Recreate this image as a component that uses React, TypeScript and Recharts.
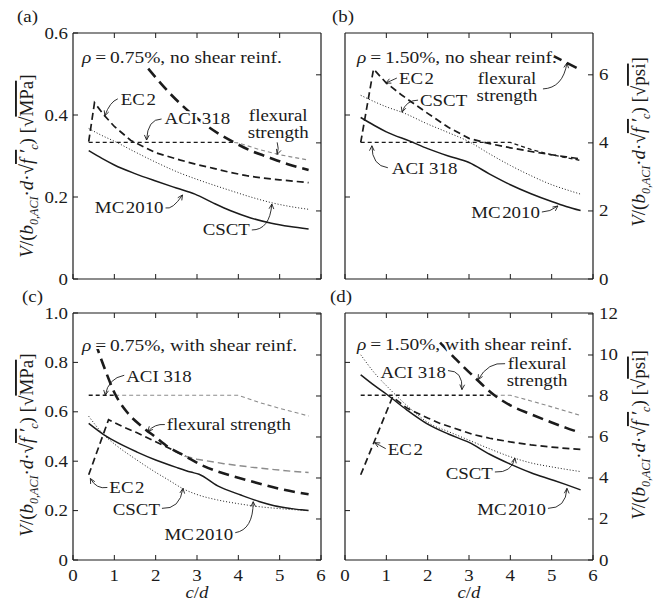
import React from 'react';
import { LineChart, Line, XAxis, YAxis, ReferenceDot } from 'recharts';

type Pt = [number, number];
type Kind = 'mc' | 'csct' | 'ec2' | 'aci' | 'flex';

const W = 654;
const H = 605;
const FONT = '"Liberation Serif", "Times New Roman", Times, serif';
const FS = 16;
const SX = 1.18; // lettering is set a little wide
const INK = '#1b1b1b';
const GRAY = '#8c8c8c';
const PSI = 0.083; // 1 sqrt(psi) in sqrt(MPa)

const cdTicks = [0, 1, 2, 3, 4, 5, 6];
const cdInner = [1, 2, 3, 4, 5];
const mpaTicksTop = [0, 0.2, 0.4, 0.6];
const mpaTicksBottom = [0, 0.2, 0.4, 0.6, 0.8, 1.0];
const psiTicksTop = [0, 2, 4, 6];
const psiTicksBottom = [0, 2, 4, 6, 8, 10, 12];

// (a) rho = 0.75 %, no shear reinforcement
const aMc2010: Pt[] = [[0.38, 0.313], [0.7, 0.294], [1.0, 0.278], [1.5, 0.257], [2.0, 0.239], [2.5, 0.222], [2.95, 0.207], [3.4, 0.185], [3.8, 0.167], [4.3, 0.149], [4.8, 0.136], [5.25, 0.128], [5.7, 0.122]];
const aCsct: Pt[] = [[0.38, 0.367], [0.7, 0.35], [1.0, 0.336], [1.5, 0.31], [2.0, 0.285], [2.6, 0.258], [3.0, 0.243], [3.8, 0.216], [4.3, 0.2], [4.85, 0.185], [5.3, 0.176], [5.7, 0.17]];
const aEc2: Pt[] = [[0.38, 0.335], [0.52, 0.43], [0.75, 0.4], [1.0, 0.372], [1.4, 0.338], [2.0, 0.308], [2.6, 0.29], [3.0, 0.279], [3.4, 0.27], [3.8, 0.26], [4.2, 0.252], [4.6, 0.246], [5.0, 0.242], [5.4, 0.238], [5.7, 0.235]];
const aAci: Pt[] = [[0.38, 0.333], [3.9, 0.333]];
const aAciOver: Pt[] = [[3.9, 0.333], [4.0, 0.332], [4.5, 0.316], [5.0, 0.303], [5.7, 0.29]];
const aFlex: Pt[] = [[1.82, 0.513], [2.4, 0.447], [3.0, 0.392], [3.5, 0.356], [3.9, 0.333], [4.3, 0.313], [4.7, 0.298], [5.2, 0.28], [5.7, 0.266]];

// (b) rho = 1.50 %, no shear reinforcement
const bMc2010: Pt[] = [[0.38, 0.394], [0.7, 0.375], [1.0, 0.359], [1.6, 0.335], [2.0, 0.318], [2.5, 0.3], [3.0, 0.284], [3.5, 0.256], [4.0, 0.23], [4.5, 0.208], [5.0, 0.189], [5.35, 0.177], [5.7, 0.167]];
const bCsct: Pt[] = [[0.38, 0.448], [1.0, 0.42], [1.42, 0.405], [2.0, 0.378], [2.5, 0.357], [3.0, 0.335], [3.5, 0.305], [4.0, 0.277], [4.5, 0.252], [5.0, 0.23], [5.35, 0.218], [5.7, 0.207]];
const bEc2: Pt[] = [[0.38, 0.333], [0.69, 0.512], [1.0, 0.478], [1.38, 0.448], [2.0, 0.404], [2.5, 0.37], [3.0, 0.343], [3.5, 0.33], [4.0, 0.32], [4.5, 0.311], [5.0, 0.303], [5.35, 0.298], [5.7, 0.293]];
const bAci: Pt[] = [[0.38, 0.333], [4.0, 0.333], [4.5, 0.316], [5.0, 0.303], [5.7, 0.289]];
const bFlex: Pt[] = [[5.0, 0.546], [5.35, 0.528], [5.7, 0.51]];

// (c) rho = 0.75 %, with shear reinforcement
const cMc2010: Pt[] = [[0.38, 0.553], [0.74, 0.508], [1.0, 0.482], [1.55, 0.437], [2.0, 0.405], [2.5, 0.375], [2.85, 0.356], [3.05, 0.347], [3.5, 0.3], [4.06, 0.263], [4.5, 0.237], [4.87, 0.22], [5.3, 0.208], [5.7, 0.2]];
const cCsct: Pt[] = [[0.38, 0.582], [0.74, 0.508], [1.0, 0.47], [1.5, 0.41], [2.0, 0.355], [2.3, 0.325], [2.68, 0.287], [3.0, 0.265], [3.5, 0.243], [4.0, 0.228], [4.5, 0.216], [5.0, 0.208], [5.7, 0.2]];
const cEc2: Pt[] = [[0.38, 0.345], [0.86, 0.568], [1.2, 0.54], [1.55, 0.515], [2.16, 0.466], [2.72, 0.42]];
const cEc2Over: Pt[] = [[2.72, 0.42], [3.0, 0.408], [3.65, 0.39], [4.3, 0.376], [4.87, 0.366], [5.3, 0.359], [5.7, 0.354]];
const cAci: Pt[] = [[0.38, 0.667], [1.02, 0.667]];
const cAciOver: Pt[] = [[1.02, 0.667], [4.0, 0.667], [4.5, 0.638], [5.0, 0.614], [5.7, 0.583]];
const cFlex: Pt[] = [[0.54, 0.88], [0.8, 0.76], [1.0, 0.678], [1.3, 0.6], [1.67, 0.54], [2.0, 0.497], [2.3, 0.458], [2.72, 0.42], [3.1, 0.385], [3.5, 0.358], [4.0, 0.333], [4.5, 0.31], [5.0, 0.288], [5.7, 0.266]];

// (d) rho = 1.50 %, with shear reinforcement
const dMc2010: Pt[] = [[0.38, 0.75], [0.7, 0.708], [1.0, 0.672], [1.5, 0.607], [2.0, 0.55], [2.5, 0.51], [3.0, 0.476], [3.5, 0.428], [4.0, 0.388], [4.5, 0.353], [5.0, 0.325], [5.35, 0.305], [5.7, 0.284]];
const dCsct: Pt[] = [[0.38, 0.831], [0.7, 0.76], [1.1, 0.689], [1.5, 0.625], [2.07, 0.55], [2.5, 0.52], [3.0, 0.485], [3.5, 0.45], [4.0, 0.418], [4.5, 0.393], [5.0, 0.377], [5.35, 0.367], [5.7, 0.358]];
const dEc2: Pt[] = [[0.38, 0.345], [1.15, 0.66], [1.5, 0.615], [2.0, 0.575], [2.3, 0.553], [2.8, 0.525], [3.1, 0.508], [3.5, 0.493], [4.0, 0.478], [4.5, 0.466], [5.0, 0.457], [5.35, 0.452], [5.7, 0.448]];
const dAci: Pt[] = [[0.38, 0.667], [3.6, 0.667]];
const dAciOver: Pt[] = [[3.6, 0.667], [4.0, 0.667], [4.5, 0.644], [5.0, 0.62], [5.7, 0.585]];
const dFlex: Pt[] = [[2.3, 0.88], [2.7, 0.81], [3.1, 0.745], [3.6, 0.669], [4.0, 0.626], [4.5, 0.59], [5.0, 0.557], [5.35, 0.535], [5.7, 0.515]];

const LOOK: Record<Kind, { w: number; dash?: string; curve: 'monotone' | 'linear' }> = {
  mc: { w: 1.5, curve: 'monotone' },
  csct: { w: 1, dash: '1 2', curve: 'monotone' },
  ec2: { w: 1.7, dash: '7 4', curve: 'linear' },
  aci: { w: 1.3, dash: '4 3', curve: 'linear' },
  flex: { w: 2.6, dash: '11 6', curve: 'monotone' },
};

interface Series { kind: Kind; pts: Pt[]; gray?: boolean }
interface Note { at: Pt; tail: Pt; ctrl?: Pt; text: string[]; tx: number; ty: number; anchor?: 'start' | 'middle' | 'end' }
interface PanelCfg {
  tag: string;
  frame: { l: number; r: number; t: number; b: number };
  yMax: number;
  mpaTicks: number[];
  psiTicks: number[];
  leftLabels: boolean;
  bottomLabels: boolean;
  series: Series[];
  notes: Note[];
}

const frameTop = { t: 33, b: 279 };
const frameBottom = { t: 313, b: 560 };
const HS = '\u200A';
const LINE_GAP = 17;

const panels: PanelCfg[] = [
  {
    tag: 'a', frame: { l: 73, r: 321, ...frameTop }, yMax: 0.6,
    mpaTicks: mpaTicksTop, psiTicks: psiTicksTop, leftLabels: true, bottomLabels: false,
    series: [
      { kind: 'aci', pts: aAciOver, gray: true },
      { kind: 'csct', pts: aCsct }, { kind: 'mc', pts: aMc2010 }, { kind: 'ec2', pts: aEc2 },
      { kind: 'aci', pts: aAci }, { kind: 'flex', pts: aFlex },
    ],
    notes: [
      { at: [0.77, 0.398], tail: [13, -17], ctrl: [5, -14], text: [`EC${HS}2`], tx: 16, ty: -11 },
      { at: [1.78, 0.339], tail: [15, -21], ctrl: [1, -21], text: ['ACI 318'], tx: 18, ty: -16 },
      { at: [4.94, 0.304], tail: [0, -12], ctrl: [2, -6], text: ['flexural', 'strength'], tx: 1, ty: -33, anchor: 'middle' },
      { at: [2.65, 0.205], tail: [-17, 13], ctrl: [-10, 15], text: [`MC${HS}2010`], tx: -19, ty: 18, anchor: 'end' },
      { at: [4.81, 0.183], tail: [-20, 26], ctrl: [-2, 26], text: ['CSCT'], tx: -22, ty: 31, anchor: 'end' },
    ],
  },
  {
    tag: 'b', frame: { l: 345, r: 593, ...frameTop }, yMax: 0.6,
    mpaTicks: [0.2, 0.4], psiTicks: psiTicksTop, leftLabels: false, bottomLabels: false,
    series: [
      { kind: 'csct', pts: bCsct }, { kind: 'mc', pts: bMc2010 }, { kind: 'ec2', pts: bEc2 },
      { kind: 'aci', pts: bAci }, { kind: 'flex', pts: bFlex },
    ],
    notes: [
      { at: [0.99, 0.478], tail: [11, -5], text: [`EC${HS}2`], tx: 13, ty: 1 },
      { at: [1.38, 0.407], tail: [16, -12], ctrl: [4, -12], text: ['CSCT'], tx: 18, ty: -6 },
      { at: [5.37, 0.527], tail: [-24, 26], ctrl: [-4, 25], text: ['flexural', 'strength'], tx: -60, ty: 21, anchor: 'middle' },
      { at: [0.65, 0.325], tail: [16, 22], ctrl: [0, 20], text: ['ACI 318'], tx: 20, ty: 28 },
      { at: [5.15, 0.178], tail: [-16, 6], ctrl: [-8, 6], text: [`MC${HS}2010`], tx: -18, ty: 12, anchor: 'end' },
    ],
  },
  {
    tag: 'c', frame: { l: 73, r: 321, ...frameBottom }, yMax: 1.0,
    mpaTicks: mpaTicksBottom, psiTicks: psiTicksBottom, leftLabels: true, bottomLabels: true,
    series: [
      { kind: 'aci', pts: cAciOver, gray: true }, { kind: 'ec2', pts: cEc2Over, gray: true },
      { kind: 'csct', pts: cCsct }, { kind: 'mc', pts: cMc2010 }, { kind: 'ec2', pts: cEc2 },
      { kind: 'aci', pts: cAci }, { kind: 'flex', pts: cFlex },
    ],
    notes: [
      { at: [0.78, 0.667], tail: [19, -20], ctrl: [3, -17], text: ['ACI 318'], tx: 21, ty: -13 },
      { at: [1.81, 0.52], tail: [17, -7], ctrl: [7, -8], text: ['flexural strength'], tx: 19, ty: -2 },
      { at: [0.42, 0.33], tail: [17, 9], ctrl: [6, 11], text: [`EC${HS}2`], tx: 19, ty: 15 },
      { at: [2.66, 0.29], tail: [-21, 20], ctrl: [-3, 21], text: ['CSCT'], tx: -23, ty: 27, anchor: 'end' },
      { at: [4.36, 0.236], tail: [-18, 31], ctrl: [0, 28], text: [`MC${HS}2010`], tx: -20, ty: 38, anchor: 'end' },
    ],
  },
  {
    tag: 'd', frame: { l: 345, r: 593, ...frameBottom }, yMax: 1.0,
    mpaTicks: [0.2, 0.4, 0.6, 0.8], psiTicks: psiTicksBottom, leftLabels: false, bottomLabels: true,
    series: [
      { kind: 'aci', pts: dAciOver, gray: true },
      { kind: 'csct', pts: dCsct }, { kind: 'mc', pts: dMc2010 }, { kind: 'ec2', pts: dEc2 },
      { kind: 'aci', pts: dAci }, { kind: 'flex', pts: dFlex },
    ],
    notes: [
      { at: [3.22, 0.73], tail: [27, -16], ctrl: [10, -18], text: ['flexural', 'strength'], tx: 59, ty: -11, anchor: 'middle' },
      { at: [2.83, 0.69], tail: [-14, -19], ctrl: [1, -19], text: ['ACI 318'], tx: -16, ty: -12, anchor: 'end' },
      { at: [0.72, 0.475], tail: [11, 6], text: [`EC${HS}2`], tx: 13, ty: 12 },
      { at: [4.11, 0.413], tail: [-20, 14], ctrl: [-3, 15], text: ['CSCT'], tx: -22, ty: 21, anchor: 'end' },
      { at: [5.37, 0.29], tail: [-19, 20], ctrl: [-1, 20], text: [`MC${HS}2010`], tx: -21, ty: 27, anchor: 'end' },
    ],
  },
];

const Txt: React.FC<{ x: number; y: number; anchor?: 'start' | 'middle' | 'end'; size?: number; halo?: boolean; children: React.ReactNode }> = ({ x, y, anchor = 'start', size = FS, halo = false, children }) => (
  <text transform={`translate(${x} ${y}) scale(${SX} 1)`} textAnchor={anchor} fontFamily={FONT} fontSize={size} fill={INK}
    stroke={halo ? '#fff' : 'none'} strokeWidth={halo ? 4 : 0} strokeLinejoin="round" style={{ paintOrder: 'stroke' }}>
    {children}
  </text>
);

const TICK = 5;
const fmtMpa = (v: number) => (v === 0 ? '0' : v.toFixed(1));

// ticks point into the frame; labels sit outside
const makeTick = (side: 'left' | 'right' | 'top' | 'bottom', show: boolean, fmt: (v: number) => string) =>
  (props: any) => {
    const { x, y, payload } = props;
    const v = payload.value as number;
    const ln = { stroke: INK, strokeWidth: 1 };
    if (side === 'bottom') {
      return (
        <g>
          <line x1={x} y1={y} x2={x} y2={y - TICK} {...ln} />
          {show && <Txt x={x} y={y + 21} anchor="middle">{fmt(v)}</Txt>}
        </g>
      );
    }
    if (side === 'top') return <line x1={x} y1={y} x2={x} y2={y + TICK} {...ln} />;
    if (side === 'left') {
      return (
        <g>
          <line x1={x} y1={y} x2={x + TICK} y2={y} {...ln} />
          {show && <Txt x={x - 5} y={y + 5.5} anchor="end">{fmt(v)}</Txt>}
        </g>
      );
    }
    return (
      <g>
        <line x1={x} y1={y} x2={x - TICK} y2={y} {...ln} />
        {show && <Txt x={x + 6} y={y + 5.5}>{fmt(v)}</Txt>}
      </g>
    );
  };

const NoteMark = ({ cx, cy, n }: { cx: number; cy: number; n: Note }) => {
  const tail: Pt = [cx + n.tail[0], cy + n.tail[1]];
  const c: Pt = n.ctrl ? [cx + n.ctrl[0], cy + n.ctrl[1]] : tail;
  const ang = Math.atan2(cy - c[1], cx - c[0]);
  const hl = 5.5;
  const sp = 0.45;
  const h1: Pt = [cx - hl * Math.cos(ang - sp), cy - hl * Math.sin(ang - sp)];
  const h2: Pt = [cx - hl * Math.cos(ang + sp), cy - hl * Math.sin(ang + sp)];
  return (
    <g>
      {n.text.map((s, i) => (
        <Txt key={i} x={cx + n.tx} y={cy + n.ty + i * LINE_GAP} anchor={n.anchor} halo>{s}</Txt>
      ))}
      <path d={`M${tail} Q${c} ${cx},${cy}`} fill="none" stroke={INK} strokeWidth={0.9} />
      <path d={`M${h1} L${cx},${cy} L${h2}`} fill="none" stroke={INK} strokeWidth={0.9} />
    </g>
  );
};

const frameLine = { stroke: INK, strokeWidth: 1.2 };

const Panel: React.FC<{ p: PanelCfg }> = ({ p }) => {
  const { l, r, t, b } = p.frame;
  // the solid MC2010 curve restated in sqrt(psi); it only gives the top and right axes their data
  const twin = p.series.find((s) => s.kind === 'mc')!.pts.map(([x, y]) => ({ x, y: y / PSI }));
  // axes take 1px each, so the plot box lands on the frame
  return (
    <div style={{ position: 'absolute', left: 0, top: 0 }}>
      <LineChart width={W} height={H} margin={{ top: t - 1, right: W - r - 1, bottom: H - b - 1, left: l - 1 }}>
        <XAxis xAxisId="b" type="number" dataKey="x" domain={[0, 6]} ticks={cdTicks} interval={0} height={1} allowDataOverflow
          tickSize={0} tickMargin={0} tickLine={false} axisLine={frameLine} tick={makeTick('bottom', p.bottomLabels, String)} />
        <XAxis xAxisId="t" orientation="top" type="number" dataKey="x" domain={[0, 6]} ticks={cdInner} interval={0} height={1} allowDataOverflow
          tickSize={0} tickMargin={0} tickLine={false} axisLine={frameLine} tick={makeTick('top', false, String)} />
        <YAxis yAxisId="mpa" type="number" domain={[0, p.yMax]} ticks={p.mpaTicks} interval={0} width={1} allowDataOverflow
          tickSize={0} tickMargin={0} tickLine={false} axisLine={frameLine} tick={makeTick('left', p.leftLabels, fmtMpa)} />
        <YAxis yAxisId="psi" orientation="right" type="number" domain={[0, p.yMax / PSI]} ticks={p.psiTicks} interval={0} width={1} allowDataOverflow
          tickSize={0} tickMargin={0} tickLine={false} axisLine={frameLine} tick={makeTick('right', !p.leftLabels, String)} />
        <Line xAxisId="t" yAxisId="psi" data={twin} dataKey="y" stroke="none" dot={false} activeDot={false} isAnimationActive={false} />
        {p.series.map((s, i) => {
          const look = LOOK[s.kind];
          return (
            <Line key={`${p.tag}-${i}`} xAxisId="b" yAxisId="mpa" data={s.pts.map(([x, y]) => ({ x, y }))} dataKey="y"
              type={look.curve} stroke={s.gray ? GRAY : INK} strokeWidth={s.gray ? look.w * 0.85 : look.w}
              strokeDasharray={look.dash} dot={false} activeDot={false} isAnimationActive={false} />
          );
        })}
        {p.notes.map((n, i) => (
          <ReferenceDot key={`n-${p.tag}-${i}`} xAxisId="b" yAxisId="mpa" x={n.at[0]} y={n.at[1]} r={0} ifOverflow="visible"
            shape={(sp: any) => <NoteMark cx={sp.cx} cy={sp.cy} n={n} />} />
        ))}
      </LineChart>
    </div>
  );
};

// axis title V/(b0,ACI d sqrt(f'c)) set vertically
const YTitle: React.FC<{ x: number; y: number; unit: string }> = ({ x, y, unit }) => (
  <text transform={`translate(${x} ${y}) rotate(-90)`} textAnchor="middle" fontFamily={FONT} fontSize={19} fill={INK}>
    <tspan fontStyle="italic">V</tspan>
    <tspan>/(</tspan>
    <tspan fontStyle="italic">b</tspan>
    <tspan fontSize={12} fontStyle="italic" dy={4.5}>0,ACI</tspan>
    <tspan dy={-4.5}>·</tspan>
    <tspan fontStyle="italic">d</tspan>
    <tspan>·√</tspan>
    <tspan fontStyle="italic" style={{ textDecoration: 'overline' }}>f ′</tspan>
    <tspan fontSize={12} fontStyle="italic" dy={4.5}>c</tspan>
    <tspan dy={-4.5}>) [√</tspan>
    <tspan style={{ textDecoration: 'overline' }}>{unit}</tspan>
    <tspan>]</tspan>
  </text>
);

const Rho: React.FC<{ x: number; y: number; pct: string; shear: string }> = ({ x, y, pct, shear }) => (
  <Txt x={x} y={y} size={16.5} halo>
    <tspan fontStyle="italic">ρ</tspan>
    <tspan>{`\u2009=\u2009${pct}%, ${shear} shear reinf.`}</tspan>
  </Txt>
);

const CdTitle: React.FC<{ x: number; y: number }> = ({ x, y }) => (
  <Txt x={x} y={y} anchor="middle">
    <tspan fontStyle="italic">c</tspan>
    <tspan>/</tspan>
    <tspan fontStyle="italic">d</tspan>
  </Txt>
);

const Labels: React.FC = () => (
  <svg width={W} height={H} style={{ position: 'absolute', left: 0, top: 0, pointerEvents: 'none' }}>
    <Txt x={17} y={22}>(a)</Txt>
    <Txt x={332} y={22}>(b)</Txt>
    <Txt x={22} y={302}>(c)</Txt>
    <Txt x={330} y={302}>(d)</Txt>
    <Rho x={82} y={63} pct="0.75" shear="no" />
    <Rho x={357} y={63} pct="1.50" shear="no" />
    <Rho x={82} y={351} pct="0.75" shear="with" />
    <Rho x={357} y={350} pct="1.50" shear="with" />
    <YTitle x={33} y={166} unit="MPa" />
    <YTitle x={33} y={445} unit="MPa" />
    <YTitle x={645} y={142} unit="psi" />
    <YTitle x={645} y={435} unit="psi" />
    <CdTitle x={197} y={598} />
    <CdTitle x={469} y={598} />
  </svg>
);

export default function App() {
  return (
    <div style={{ position: 'absolute', left: 0, top: 0, width: W, height: H, background: '#fff', overflow: 'hidden' }}>
      {panels.map((p) => (
        <Panel key={p.tag} p={p} />
      ))}
      <Labels />
    </div>
  );
}
